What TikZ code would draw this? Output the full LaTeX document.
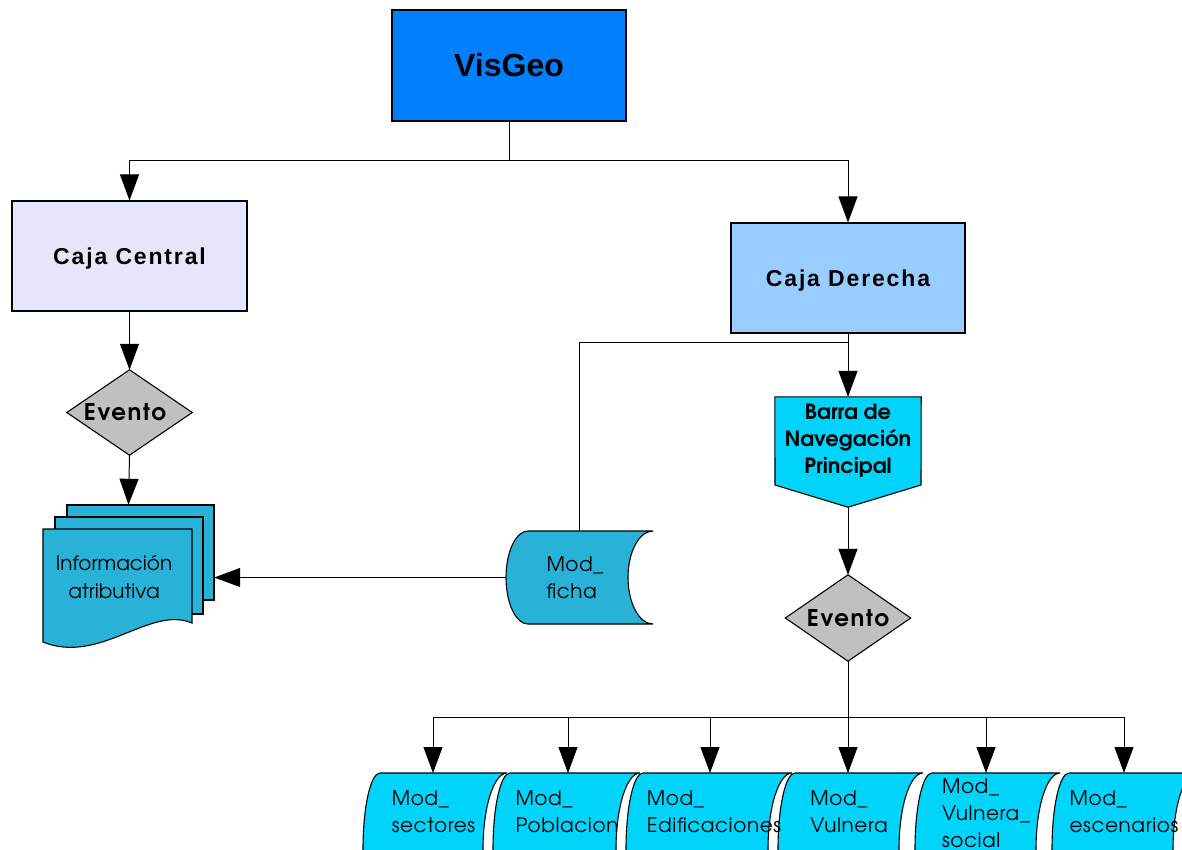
\documentclass[tikz,border=0pt]{standalone}
\usepackage{fontspec}
\usetikzlibrary{arrows.meta,calc}
\setmainfont{Liberation Sans}
\newfontfamily\cajaf[LetterSpace=8]{Liberation Sans}
\newfontfamily\gothf[Extension=.otf,UprightFont=*-regular,BoldFont=*-bold]{texgyreadventor}
\newfontfamily\gothsp[Extension=.otf,UprightFont=*-regular,BoldFont=*-bold,LetterSpace=3]{texgyreadventor}
\newfontfamily\gothev[Extension=.otf,UprightFont=*-regular,BoldFont=*-bold,LetterSpace=7]{texgyreadventor}
\definecolor{visblue}{RGB}{0,128,255}
\definecolor{lav}{RGB}{230,230,250}
\definecolor{lblue}{RGB}{153,204,255}
\definecolor{evgray}{RGB}{192,192,192}
\definecolor{cyanb}{RGB}{0,212,250}
\definecolor{docc}{RGB}{40,178,216}
% #1 L, #2 T, #3 W, #4 H, #5 left bulge, #6 fill, #7 right concave depth
\newcommand{\stdatashape}[7]{%
 \filldraw[fill=#6, line width=1.1pt] (#1,#2) -- ({#1+#3},#2)
 .. controls ({#1+#3-0.5523*#7},#2) and ({#1+#3-#7},{#2+0.2239*#4}) .. ({#1+#3-#7},{#2+0.5*#4})
 .. controls ({#1+#3-#7},{#2+0.7761*#4}) and ({#1+#3-0.5523*#7},{#2+#4}) .. ({#1+#3},{#2+#4})
 -- (#1,{#2+#4})
 .. controls ({#1-0.5523*#5},{#2+#4}) and ({#1-#5},{#2+0.7761*#4}) .. ({#1-#5},{#2+0.5*#4})
 .. controls ({#1-#5},{#2+0.2239*#4}) and ({#1-0.5523*#5},#2) .. (#1,#2) -- cycle;}
\begin{document}
\begin{tikzpicture}[x=1pt,y=-1pt,
  arr/.style={-{Triangle[width=19pt,length=26pt]}, line width=1pt},
  ln/.style={line width=1pt},
  box/.style={draw, line width=1.1pt, inner sep=0pt},
  ghost/.style={inner sep=0pt},
  cajat/.style={font=\cajaf\bfseries\fontsize{23}{26}\selectfont, text depth=0pt},
  evt/.style={font=\gothev\bfseries\fontsize{23}{26}\selectfont},
  modt/.style={font=\gothsp\fontsize{20}{27}\selectfont, align=left, inner sep=0pt}]
\useasboundingbox (0,0) rectangle (1182,849);
\fill[white] (0,0) rectangle (1182,849);

% top boxes
\node[box, fill=visblue, minimum width=234pt, minimum height=111pt,
  font=\bfseries\fontsize{32}{36}\selectfont] (visgeo) at (509,65.5) {VisGeo};
\node[box, fill=lav, minimum width=235pt, minimum height=110pt, cajat] (central) at (129.5,256) {Caja Central};
\node[box, fill=lblue, minimum width=234pt, minimum height=110pt, cajat] (derecha) at (848,278) {Caja Derecha};

% left diamond
\path node[ghost, minimum width=125pt, minimum height=85pt] (ev1) at (129.5,412.5) {};
\filldraw[fill=evgray, line width=1.1pt] (ev1.north) -- (ev1.east) -- (ev1.south) -- (ev1.west) -- cycle;
\node[evt] (ev1t) at (125,412.5) {Evento};

% document stack
\path node[ghost, minimum width=171pt, minimum height=145pt] (docs) at (128.5,577.5) {};
\filldraw[fill=docc, line width=1.1pt] (67,505) rectangle (214,600);
\filldraw[fill=docc, line width=1.1pt] (55,517) rectangle (203,614);
\filldraw[fill=docc, line width=1.1pt] (43,529) -- (192,529) -- (192,623)
  .. controls (150,605) and (100,665) .. (43,642) -- cycle;
\node[font=\gothf\fontsize{20}{28}\selectfont, align=center] (info) at (114,577) {Información\\atributiva};

% Mod_ficha
\stdatashape{528}{531}{125}{93}{22}{docc}{25}
\node[modt] (ficha) at (575,577.5) {Mod\_\\ficha};
\coordinate (fichaN) at (579,531);
\coordinate (fichaW) at (506,577.5);

% barra
\path node[ghost, minimum width=146pt, minimum height=110pt] (barra) at (848,452) {};
\filldraw[fill=cyanb, line width=1.1pt] (barra.north west) -- (barra.north east) -- (921,485)
  -- (barra.south) -- (775,485) -- cycle;
\node[font=\gothf\bfseries\fontsize{21}{27}\selectfont, align=center] (barratxt) at (848,441)
  {Barra de\\Navegación\\Principal};

% right diamond
\path node[ghost, minimum width=125pt, minimum height=86pt] (ev2) at (848,618) {};
\filldraw[fill=evgray, line width=1.1pt] (ev2.north) -- (ev2.east) -- (ev2.south) -- (ev2.west) -- cycle;
\node[evt] (ev2t) at (ev2.center) {Evento};

% bottom modules
\begin{scope}
\clip (0,0) rectangle (1182,849);
\stdatashape{380}{773}{127}{152}{17}{cyanb}{24}
\stdatashape{510}{773}{130}{152}{17}{cyanb}{24}
\stdatashape{643}{773}{149}{152}{17}{cyanb}{24}
\stdatashape{795}{773}{128}{152}{17}{cyanb}{24}
\stdatashape{932}{773}{128}{152}{17}{cyanb}{24}
\stdatashape{1069}{773}{128}{152}{17}{cyanb}{24}
\end{scope}
\node[modt] (s1) at (433.5,812) {Mod\_\\sectores};
\node[modt] (s2) at (567,812) {Mod\_\\Poblacion};
\node[modt] (s3) at (714,812) {Mod\_\\Edificaciones};
\node[modt] (s4) at (849,812) {Mod\_\\Vulnera};
\node[modt] (s5) at (986,813) {Mod\_\\Vulnera\_\\social};
\node[modt] (s6) at (1124,812) {Mod\_\\escenarios};
\coordinate (s1top) at (433,773);
\coordinate (s2top) at (568,773);
\coordinate (s3top) at (710,773);
\coordinate (s4top) at (848,773);
\coordinate (s5top) at (986,773);
\coordinate (s6top) at (1124,773);

% connectors
\coordinate (j1) at (0,160);
\coordinate (j2) at (0,342);
\coordinate (j3) at (0,717);
\draw[ln] (visgeo.south) -- (visgeo.south |- j1);
\draw[arr] (visgeo.south |- j1) -| (central.north);
\draw[arr] (visgeo.south |- j1) -| (derecha.north);
\draw[arr] (central.south) -- (ev1.north);
\draw[arr] (ev1.south) -- (docs.north);
\draw[arr] (derecha.south) -- (barra.north);
\draw[ln] (derecha.south |- j2) -| (fichaN);
\draw[arr] (fichaW) -- (docs.east);
\draw[arr] (barra.south) -- (ev2.north);
\draw[ln] (ev2.south) -- (ev2.south |- j3);
\draw[ln] (s1top |- j3) -- (s6top |- j3);
\foreach \s in {s1top,s2top,s3top,s4top,s5top,s6top}{
  \draw[arr] (\s |- j3) -- (\s);
}
\end{tikzpicture}
\end{document}
